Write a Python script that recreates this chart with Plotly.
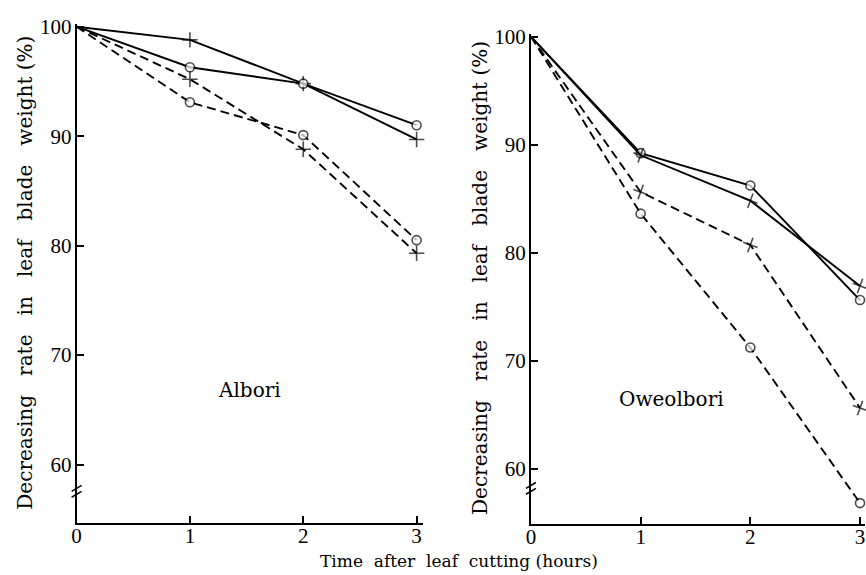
import plotly.graph_objects as go

hours = [0, 1, 2, 3]
x_ticks = [0, 1, 2, 3]
y_ticks = [60, 70, 80, 90, 100]

# Albori
alb_solid_cross = [100, 98.8, 94.8, 89.7]
alb_solid_circle = [100, 96.3, 94.8, 91.0]
alb_dash_cross = [100, 95.2, 88.8, 79.3]
alb_dash_circle = [100, 93.1, 90.1, 80.5]
# Oweolbori
owe_solid_circle = [100, 89.2, 86.2, 75.6]
owe_solid_cross = [100, 89.0, 84.8, 76.9]
owe_dash_cross = [100, 85.6, 80.7, 65.6]
owe_dash_circle = [100, 83.6, 71.2, 56.8]

W, H = 866, 575
SERIF = "DejaVu Serif"
TICKFONT = dict(family="Liberation Serif", size=21, color="black")
DASH = "9px,5px"

fig = go.Figure()

def add(x, y, symbol, dash, xa, ya, angle=0):
    is_circle = symbol == "circle"
    sizes = [0] + [9 if is_circle else 11] * (len(x) - 1)
    fig.add_trace(go.Scatter(
        x=x, y=y, mode="lines+markers", xaxis=xa, yaxis=ya,
        line=dict(color="black", width=1.9, dash=dash),
        marker=dict(symbol=symbol, size=sizes, color="white" if is_circle else "black",
                    angle=angle, line=dict(color="black", width=1.6)),
        cliponaxis=False, showlegend=False, hoverinfo="skip"))

add(hours, alb_solid_cross, "cross-thin", "solid", "x", "y")
add(hours, alb_solid_circle, "circle", "solid", "x", "y")
add(hours, alb_dash_cross, "cross-thin", DASH, "x", "y")
add(hours, alb_dash_circle, "circle", DASH, "x", "y")
add(hours, owe_solid_circle, "circle", "solid", "x2", "y2")
add(hours, owe_solid_cross, "cross-thin", "solid", "x2", "y2", 20)
add(hours, owe_dash_cross, "cross-thin", DASH, "x2", "y2", 20)
add(hours, owe_dash_circle, "circle", DASH, "x2", "y2")

def px_x(p):
    return p / W

def px_y(p):
    return 1 - p / H

axis_common = dict(showgrid=False, zeroline=False, showline=True, linecolor="black",
                   linewidth=2, ticks="inside", ticklen=7, tickwidth=1.6,
                   tickcolor="black", tickfont=TICKFONT)

fig.update_layout(
    width=W, height=H, autosize=False,
    margin=dict(l=0, r=0, t=0, b=0),
    paper_bgcolor="white", plot_bgcolor="white",
    xaxis=dict(domain=[px_x(72), px_x(420)], range=[0, 3 * 348 / 342], anchor="y",
               tickvals=x_ticks, ticklabelstandoff=-7, **axis_common),
    yaxis=dict(domain=[px_y(521.7), px_y(15)], range=[54.70, 100.27], anchor="x",
               tickvals=y_ticks, ticklabelstandoff=-1, **axis_common),
    xaxis2=dict(domain=[px_x(529), px_x(865)], range=[0, 3 * 336 / 331], anchor="y2",
                tickvals=x_ticks, ticklabelstandoff=-7, **axis_common),
    yaxis2=dict(domain=[px_y(523), px_y(25)], range=[54.88, 100.27], anchor="x2",
                tickvals=y_ticks, ticklabelstandoff=-1, **axis_common),
)

sp = "\u00a0"
ytitle = f"Decreasing{sp*3}rate{sp*3}in{sp*3}leaf{sp*3}blade{sp*3}weight{sp}(%)"
for xc, yc in [(20, 268), (477, 273)]:
    fig.add_annotation(text=ytitle, xref="paper", yref="paper", x=px_x(xc), y=px_y(yc),
                       xanchor="center", yanchor="middle", textangle=-90, showarrow=False,
                       font=dict(family=SERIF, size=20, color="black"))
fig.add_annotation(text=f"Time{sp*2}after{sp*2}leaf{sp*2}cutting{sp}(hours)", xref="paper", yref="paper",
                   x=px_x(457), y=px_y(561), xanchor="center", yanchor="middle", showarrow=False,
                   font=dict(family=SERIF, size=17, color="black"))
fig.add_annotation(text="Albori", xref="x", yref="y", x=1.53, y=66.8, showarrow=False,
                   font=dict(family=SERIF, size=20, color="black"))
fig.add_annotation(text="Oweolbori", xref="x2", yref="y2", x=1.28, y=66.4, showarrow=False,
                   font=dict(family=SERIF, size=20, color="black"))

# axis break marks
for ax_px, ys in [(72, [487, 493]), (529, [484, 490])]:
    for yp in ys:
        fig.add_shape(type="line", xref="paper", yref="paper",
                      x0=px_x(ax_px - 5), y0=px_y(yp + 3), x1=px_x(ax_px + 5), y1=px_y(yp - 3),
                      line=dict(color="black", width=1.6))

fig.write_html("out.html")
